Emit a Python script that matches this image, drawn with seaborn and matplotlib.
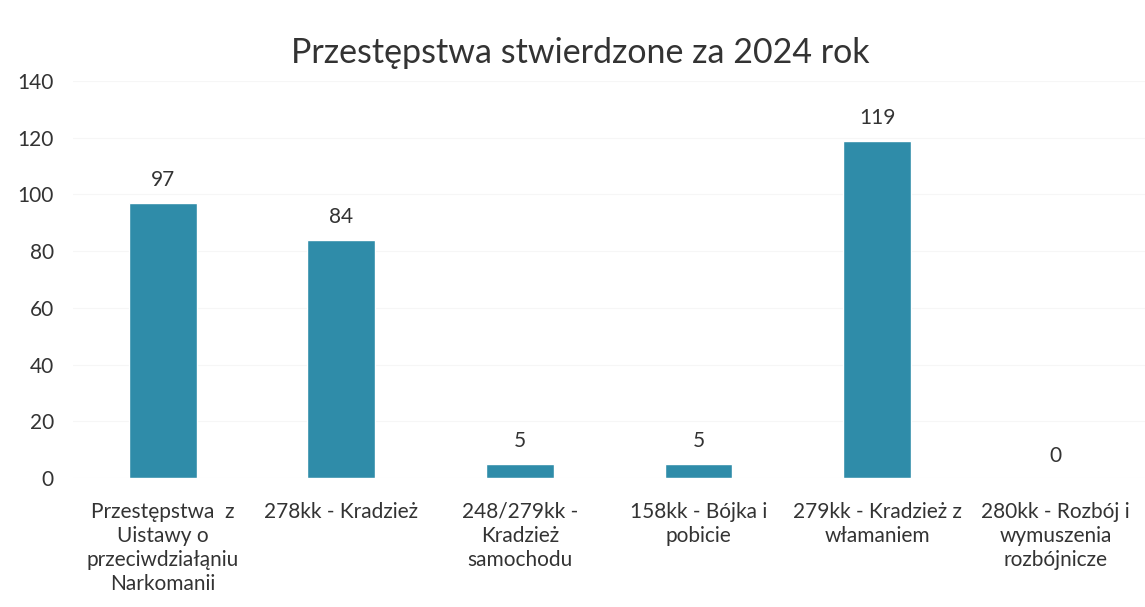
import matplotlib
matplotlib.use("Agg")
import matplotlib.pyplot as plt
import seaborn as sns
import pandas as pd

# data
categories = [
    "Przestępstwa  z\nUistawy o\nprzeciwdziałąniu\nNarkomanii",
    "278kk - Kradzież",
    "248/279kk -\nKradzież\nsamochodu",
    "158kk - Bójka i\npobicie",
    "279kk - Kradzież z\nwłamaniem",
    "280kk - Rozbój i\nwymuszenia\nrozbójnicze",
]
counts = [97, 84, 5, 5, 119, 0]
title = "Przestępstwa stwierdzone za 2024 rok"

df = pd.DataFrame({"kategoria": categories, "liczba": counts})

sns.set_theme(style="white")
plt.rcParams["font.family"] = ["Lato", "DejaVu Sans"]

fig = plt.figure(figsize=(11.45, 6.07), dpi=100)
ax = fig.add_axes([0.064, 0.2125, 0.936, 0.654])

sns.barplot(data=df, x="kategoria", y="liczba", color="#2F8CA9", width=0.38,
            saturation=1, ax=ax)

for i, v in enumerate(counts):
    ax.annotate(str(v), (i, v), xytext=(0, 9), textcoords="offset points",
                ha="center", va="bottom", fontsize=15, color="#333333")

ax.set_ylim(0, 140)
ax.set_yticks(range(0, 141, 20))
ax.set_xlim(-0.5, 5.5)
ax.set_xlabel("")
ax.set_ylabel("")
ax.tick_params(axis="both", length=0, colors="#333333")
ax.tick_params(axis="x", pad=17, labelsize=15)
ax.tick_params(axis="y", pad=14, labelsize=15)
for lbl in ax.get_xticklabels():
    lbl.set_linespacing(1.25)
ax.yaxis.grid(True, color="#f6f6f6", linewidth=0.8)
ax.set_axisbelow(True)
sns.despine(ax=ax, left=True, bottom=True)

fig.text(0.507, 0.912, title, ha="center", va="center", fontsize=24.5,
         color="#333333")

fig.savefig("out.png", dpi=100)
